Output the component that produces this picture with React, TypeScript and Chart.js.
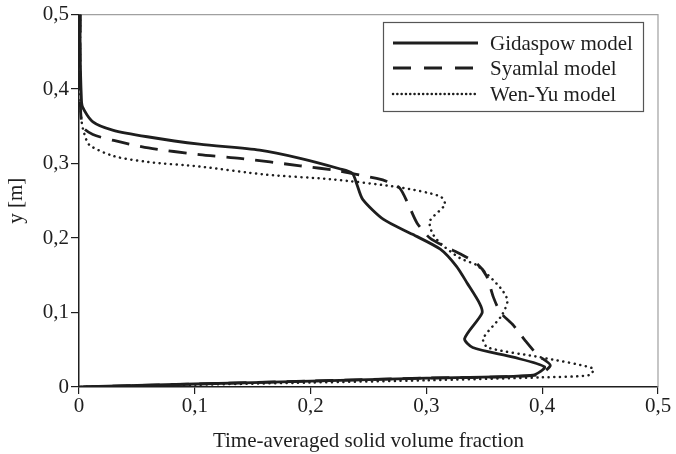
import React, { useEffect, useRef } from "react";
import { Chart, registerables } from "chart.js";

Chart.register(...registerables);

const seriesNames = ["Gidaspow model", "Syamlal model", "Wen-Yu model"];

const gidaspowX = [0.001, 0.001, 0.002, 0.003, 0.012, 0.029, 0.059, 0.104, 0.156, 0.191, 0.225, 0.236, 0.24, 0.245, 0.263, 0.288, 0.312, 0.326, 0.335, 0.346, 0.348, 0.333, 0.34, 0.375, 0.402, 0.392, 0.3, 0.2, 0.1, 0];
const gidaspowY = [0.5, 0.45, 0.39, 0.376, 0.356, 0.345, 0.336, 0.326, 0.318, 0.307, 0.293, 0.287, 0.272, 0.252, 0.225, 0.205, 0.185, 0.162, 0.14, 0.112, 0.099, 0.065, 0.053, 0.04, 0.027, 0.016, 0.012, 0.008, 0.004, 0];

const syamlalX = [0.001, 0.001, 0.003, 0.012, 0.03, 0.06, 0.104, 0.139, 0.191, 0.225, 0.257, 0.266, 0.277, 0.285, 0.292, 0.303, 0.318, 0.329, 0.344, 0.352, 0.358, 0.364, 0.375, 0.385, 0.396, 0.407, 0.395, 0.3, 0.2, 0.1, 0];
const syamlalY = [0.5, 0.4, 0.35, 0.339, 0.331, 0.321, 0.312, 0.307, 0.297, 0.29, 0.28, 0.276, 0.267, 0.243, 0.22, 0.2, 0.187, 0.179, 0.165, 0.149, 0.12, 0.1, 0.083, 0.063, 0.043, 0.029, 0.016, 0.012, 0.008, 0.004, 0];

const wenYuX = [0.001, 0.001, 0.002, 0.004, 0.009, 0.03, 0.06, 0.104, 0.162, 0.217, 0.277, 0.312, 0.316, 0.303, 0.305, 0.312, 0.329, 0.344, 0.364, 0.37, 0.365, 0.349, 0.353, 0.398, 0.444, 0.441, 0.4, 0.3, 0.2, 0.1, 0];
const wenYuY = [0.5, 0.4, 0.36, 0.343, 0.325, 0.31, 0.302, 0.296, 0.285, 0.279, 0.268, 0.256, 0.245, 0.223, 0.207, 0.193, 0.173, 0.163, 0.133, 0.116, 0.096, 0.065, 0.053, 0.04, 0.025, 0.016, 0.013, 0.009, 0.006, 0.003, 0];

const xTickValues = [0, 0.1, 0.2, 0.3, 0.4, 0.5];
const yTickValues = [0, 0.1, 0.2, 0.3, 0.4, 0.5];

const FONT = "'Liberation Serif', 'Times New Roman', serif";
const FSIZE = 21;
const INK = "#1e1e1e";

const fmt = (v: number) => (v === 0 ? "0" : v.toFixed(1).replace(".", ","));

const pts = (xs: number[], ys: number[]) => xs.map((x, i) => ({ x, y: ys[i] }));

const dashes: number[][] = [[], [18, 11], [0.1, 5.6]];
const widths = [2.8, 2.8, 2.5];

const framePlugin = {
  id: "frame",
  beforeDatasetsDraw(chart: any) {
    const { ctx, chartArea: a } = chart;
    ctx.save();
    ctx.strokeStyle = "#a0a0a0";
    ctx.lineWidth = 1.2;
    ctx.beginPath();
    ctx.moveTo(a.left, a.top);
    ctx.lineTo(a.right, a.top);
    ctx.lineTo(a.right, a.bottom);
    ctx.stroke();
    ctx.restore();
  },
};

const legendPlugin = {
  id: "boxLegend",
  afterDraw(chart: any) {
    const { ctx } = chart;
    ctx.save();
    ctx.fillStyle = "#ffffff";
    ctx.fillRect(383.5, 22.5, 260, 89);
    ctx.strokeStyle = "#555";
    ctx.lineWidth = 1.2;
    ctx.strokeRect(383.5, 22.5, 260, 89);
    const rows = [43, 68, 94];
    seriesNames.forEach((name, i) => {
      const y = rows[i];
      ctx.strokeStyle = INK;
      ctx.lineWidth = widths[i];
      ctx.lineCap = i === 2 ? "round" : "butt";
      ctx.setLineDash(i === 1 ? [18, 13] : i === 2 ? [0.1, 4.2] : dashes[i]);
      ctx.beginPath();
      ctx.moveTo(393, y);
      ctx.lineTo(478, y);
      ctx.stroke();
      ctx.setLineDash([]);
      ctx.fillStyle = INK;
      ctx.font = `${FSIZE}px ${FONT}`;
      ctx.textBaseline = "middle";
      ctx.textAlign = "left";
      ctx.fillText(name, 490, y + 1);
    });
    ctx.restore();
  },
};

export default function App() {
  const ref = useRef<HTMLCanvasElement | null>(null);
  useEffect(() => {
    if (!ref.current) return;
    const datasets = [pts(gidaspowX, gidaspowY), pts(syamlalX, syamlalY), pts(wenYuX, wenYuY)].map((d, i) => ({
      label: seriesNames[i],
      data: d,
      showLine: true,
      borderColor: INK,
      backgroundColor: INK,
      borderWidth: widths[i],
      borderDash: dashes[i],
      borderCapStyle: i === 2 ? "round" : "butt",
      borderJoinStyle: "round",
      pointRadius: 0,
      tension: 0.25,
      fill: false,
    }));
    const chart = new Chart(ref.current, {
      type: "scatter",
      data: { datasets } as any,
      options: {
        animation: false,
        responsive: false,
        layout: { padding: { top: 12, right: 18, left: 0, bottom: 0 } },
        plugins: { legend: { display: false }, tooltip: { enabled: false } },
        scales: {
          x: {
            type: "linear",
            min: 0,
            max: 0.5,
            afterBuildTicks: (s: any) => {
              s.ticks = xTickValues.map((v) => ({ value: v }));
            },
            afterFit: (s: any) => {
              s.height = 67;
            },
            ticks: {
              callback: (v: any) => fmt(Number(v)),
              font: { family: FONT, size: FSIZE },
              color: INK,
              padding: 0,
              maxRotation: 0,
            },
            grid: { drawOnChartArea: false, drawTicks: true, tickLength: 7, color: INK, lineWidth: 1.2 },
            border: { display: true, color: INK, width: 1.5 },
            title: {
              display: true,
              text: "Time-averaged solid volume fraction",
              font: { family: FONT, size: FSIZE },
              color: INK,
              padding: { top: 1, bottom: 0 },
            },
          },
          y: {
            type: "linear",
            min: 0,
            max: 0.5,
            afterBuildTicks: (s: any) => {
              s.ticks = yTickValues.map((v) => ({ value: v }));
            },
            afterFit: (s: any) => {
              s.width = 79;
            },
            ticks: {
              callback: (v: any) => fmt(Number(v)),
              font: { family: FONT, size: FSIZE },
              color: INK,
              padding: 2,
            },
            grid: { drawOnChartArea: false, drawTicks: true, tickLength: 8, color: INK, lineWidth: 1.2 },
            border: { display: true, color: INK, width: 1.5 },
            title: {
              display: true,
              text: "y [m]",
              font: { family: FONT, size: FSIZE },
              color: INK,
              padding: { top: 4, bottom: 0 },
            },
          },
        },
      },
      plugins: [framePlugin, legendPlugin],
    } as any);
    return () => chart.destroy();
  }, []);
  return (
    <div style={{ position: "fixed", left: 0, top: 0, width: 676, height: 454, background: "#fff" }}>
      <canvas ref={ref} width={676} height={454} style={{ width: 676, height: 454 }} />
    </div>
  );
}
